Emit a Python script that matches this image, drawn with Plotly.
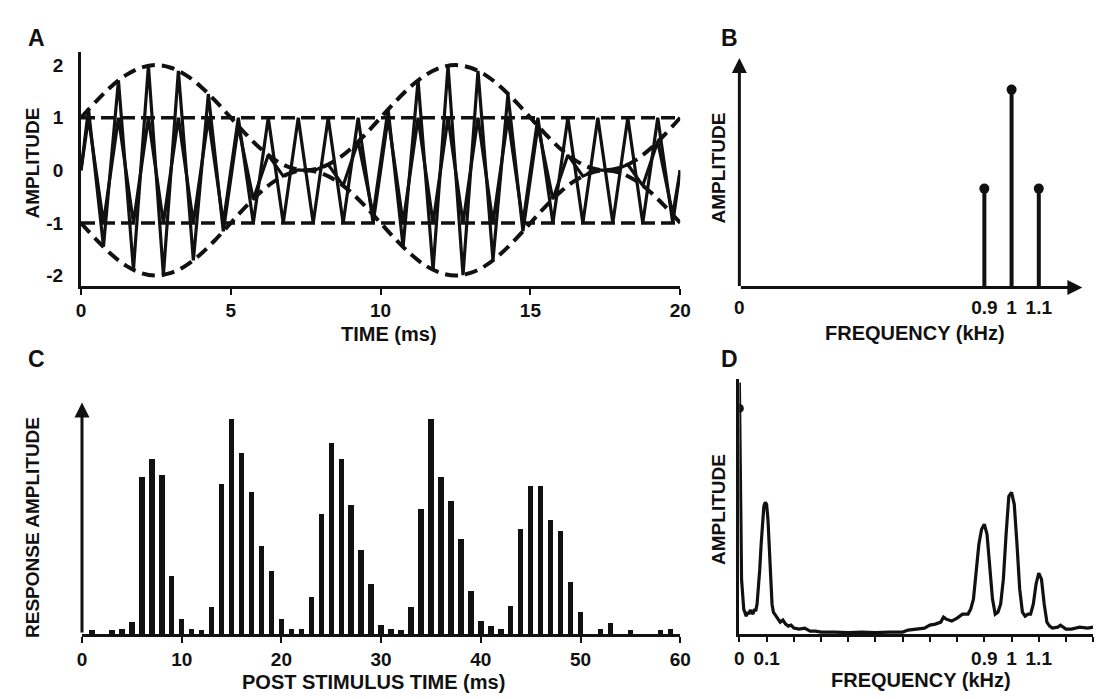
import plotly.graph_objects as go

W, H = 1109, 699

# ---------------- Panel A data (time in ms) ----------------
wave_t = [0, 0.25, 0.75, 1.25, 1.75, 2.25, 2.75, 3.25, 3.75, 4.25, 4.75,
          5.25, 5.75, 6.25, 6.75, 7.25, 7.75, 8.25, 8.75, 9.25, 9.75,
          10.25, 10.75, 11.25, 11.75, 12.25, 12.75, 13.25, 13.75, 14.25, 14.75,
          15.25, 15.75, 16.25, 16.75, 17.25, 17.75, 18.25, 18.75, 19.25, 19.75, 20]
carrier_peaks = [0, 1, -1, 1, -1, 1, -1, 1, -1, 1, -1,
                 1, -1, 1, -1, 1, -1, 1, -1, 1, -1,
                 1, -1, 1, -1, 1, -1, 1, -1, 1, -1,
                 1, -1, 1, -1, 1, -1, 1, -1, 1, -1, 0]
am_peaks = [0, 1.16, -1.45, 1.71, -1.89, 1.99, -1.99, 1.89, -1.71, 1.45, -1.16,
            0.84, -0.55, 0.29, -0.11, 0.01, -0.01, 0.11, -0.29, 0.55, -0.84,
            1.16, -1.45, 1.71, -1.89, 1.99, -1.99, 1.89, -1.71, 1.45, -1.16,
            0.84, -0.55, 0.29, -0.11, 0.01, -0.01, 0.11, -0.29, 0.55, -0.84, 0]
env_t = [0, 0.5, 1, 1.5, 2, 2.5, 3, 3.5, 4, 4.5, 5, 5.5, 6, 6.5, 7, 7.5, 8, 8.5, 9, 9.5,
         10, 10.5, 11, 11.5, 12, 12.5, 13, 13.5, 14, 14.5, 15, 15.5, 16, 16.5, 17, 17.5,
         18, 18.5, 19, 19.5, 20]
env_upper = [1.00, 1.31, 1.59, 1.81, 1.95, 2.00, 1.95, 1.81, 1.59, 1.31,
             1.00, 0.69, 0.41, 0.19, 0.05, 0.00, 0.05, 0.19, 0.41, 0.69,
             1.00, 1.31, 1.59, 1.81, 1.95, 2.00, 1.95, 1.81, 1.59, 1.31,
             1.00, 0.69, 0.41, 0.19, 0.05, 0.00, 0.05, 0.19, 0.41, 0.69, 1.00]
env_lower = [-1.00, -1.31, -1.59, -1.81, -1.95, -2.00, -1.95, -1.81, -1.59, -1.31,
             -1.00, -0.69, -0.41, -0.19, -0.05, 0.00, -0.05, -0.19, -0.41, -0.69,
             -1.00, -1.31, -1.59, -1.81, -1.95, -2.00, -1.95, -1.81, -1.59, -1.31,
             -1.00, -0.69, -0.41, -0.19, -0.05, 0.00, -0.05, -0.19, -0.41, -0.69, -1.00]
carrier_levels = [1, -1]
a_xticks = [0, 5, 10, 15, 20]
a_yticks = [2, 1, 0, -1, -2]

# ---------------- Panel B data (kHz) ----------------
b_freq = [0.9, 1.0, 1.1]
b_amp = [0.5, 1.0, 0.5]
b_xticks = [0, 0.9, 1, 1.1]

# ---------------- Panel C data (ms) ----------------
c_time = [1, 3, 4, 5, 6, 7, 8, 9, 10, 11, 12, 13, 14, 15, 16, 17, 18, 19, 20,
          21, 22, 23, 24, 25, 26, 27, 28, 29, 30, 31, 32, 33, 34, 35, 36, 37, 38,
          39, 40, 41, 42, 43, 44, 45, 46, 47, 48, 49, 50, 52, 53, 55, 58, 59]
c_amp = [0.015, 0.015, 0.02, 0.055, 0.73, 0.815, 0.74, 0.27, 0.07, 0.02, 0.015,
         0.125, 0.70, 1.00, 0.84, 0.66, 0.41, 0.29, 0.07,
         0.02, 0.02, 0.17, 0.56, 0.89, 0.815, 0.60, 0.39, 0.23, 0.04, 0.02, 0.015,
         0.125, 0.58, 1.00, 0.73, 0.62, 0.44,
         0.20, 0.06, 0.035, 0.02, 0.13, 0.49, 0.69, 0.69, 0.53, 0.48, 0.24, 0.10,
         0.02, 0.05, 0.015, 0.015, 0.02]
c_xticks = [0, 10, 20, 30, 40, 50, 60]

# ---------------- Panel D data (kHz) ----------------
d_freq = [0.0, 0.004, 0.008, 0.012, 0.016, 0.02, 0.025, 0.03, 0.035, 0.04, 0.045, 0.05,
          0.055, 0.06, 0.065, 0.07, 0.075, 0.08, 0.085, 0.09, 0.095, 0.1, 0.105, 0.11,
          0.115, 0.12, 0.125, 0.13, 0.14, 0.15, 0.16, 0.17, 0.18, 0.19, 0.2, 0.22, 0.24,
          0.26, 0.28, 0.3, 0.35, 0.4, 0.45, 0.5, 0.55, 0.6, 0.62, 0.65, 0.68, 0.7, 0.72,
          0.74, 0.75, 0.76, 0.78, 0.8, 0.82, 0.84, 0.85, 0.86, 0.87, 0.88, 0.89, 0.9,
          0.91, 0.92, 0.93, 0.94, 0.95, 0.96, 0.97, 0.98, 0.99, 1.0, 1.01, 1.02, 1.03,
          1.04, 1.05, 1.06, 1.07, 1.08, 1.09, 1.1, 1.11, 1.12, 1.13, 1.14, 1.15, 1.17,
          1.18, 1.2, 1.22, 1.25, 1.28, 1.3]
d_amp = [2.52, 1.2, 0.55, 0.40, 0.25, 0.22, 0.18, 0.22, 0.20, 0.24, 0.22, 0.20,
         0.25, 0.23, 0.30, 0.45, 0.65, 0.90, 1.15, 1.28, 1.32, 1.30, 1.15, 0.85,
         0.50, 0.30, 0.22, 0.20, 0.15, 0.12, 0.14, 0.10, 0.08, 0.09, 0.06, 0.05, 0.06,
         0.03, 0.03, 0.02, 0.02, 0.015, 0.02, 0.015, 0.02, 0.02, 0.04, 0.05, 0.06, 0.09, 0.10,
         0.12, 0.17, 0.15, 0.13, 0.16, 0.20, 0.20, 0.25, 0.35, 0.60, 0.90, 1.05, 1.10,
         1.00, 0.70, 0.35, 0.20, 0.22, 0.30, 0.55, 1.00, 1.38, 1.42, 1.30, 0.90, 0.45,
         0.22, 0.18, 0.20, 0.20, 0.30, 0.50, 0.61, 0.55, 0.30, 0.12, 0.08, 0.06, 0.07,
         0.09, 0.05, 0.05, 0.07, 0.06, 0.07]
d_dc_marker = 2.26
d_xticks = [0, 0.1, 0.9, 1, 1.1]
d_minor_ticks = [0.2, 0.3, 0.4, 0.5, 0.6, 0.7, 0.8, 1.2, 1.3]

FONT = "Liberation Sans, Arial, sans-serif"
BLACK = "#111111"


def px_x(p):
    return p / W


def px_y(p):
    return 1 - p / H


fig = go.Figure()

# ---- Panel A ----
for lvl in carrier_levels:
    fig.add_trace(go.Scatter(x=[a_xticks[0], a_xticks[-1]], y=[lvl, lvl], mode="lines",
                             line=dict(color=BLACK, width=3.5, dash="14px,6px"),
                             xaxis="x", yaxis="y", hoverinfo="skip"))
fig.add_trace(go.Scatter(x=wave_t, y=carrier_peaks, mode="lines",
                         line=dict(color=BLACK, width=3.2), xaxis="x", yaxis="y"))
fig.add_trace(go.Scatter(x=wave_t, y=am_peaks, mode="lines",
                         line=dict(color=BLACK, width=3.2), xaxis="x", yaxis="y"))
fig.add_trace(go.Scatter(x=env_t, y=env_upper, mode="lines", line_shape="spline",
                         line=dict(color=BLACK, width=4, dash="13px,7px"),
                         xaxis="x", yaxis="y"))
fig.add_trace(go.Scatter(x=env_t, y=env_lower, mode="lines", line_shape="spline",
                         line=dict(color=BLACK, width=4, dash="13px,7px"),
                         xaxis="x", yaxis="y"))

# ---- Panel B ----
stem_x, stem_y = [], []
for f, a in zip(b_freq, b_amp):
    stem_x += [f, f, None]
    stem_y += [0, a, None]
fig.add_trace(go.Scatter(x=stem_x, y=stem_y, mode="lines",
                         line=dict(color=BLACK, width=4), xaxis="x2", yaxis="y2"))
fig.add_trace(go.Scatter(x=b_freq, y=b_amp, mode="markers",
                         marker=dict(color=BLACK, size=10), xaxis="x2", yaxis="y2"))

# ---- Panel C ----
fig.add_trace(go.Bar(x=c_time, y=c_amp, width=0.55, marker=dict(color=BLACK, line=dict(width=0)),
                     xaxis="x3", yaxis="y3"))

# ---- Panel D ----
fig.add_trace(go.Scatter(x=d_freq, y=d_amp, mode="lines",
                         line=dict(color=BLACK, width=3.2), xaxis="x4", yaxis="y4"))
fig.add_trace(go.Scatter(x=[d_freq[0]], y=[d_dc_marker], mode="markers",
                         marker=dict(color=BLACK, size=9), xaxis="x4", yaxis="y4"))

tickfont = dict(family=FONT, size=19, color=BLACK, weight="bold")
common = dict(showgrid=False, zeroline=False, tickfont=tickfont, fixedrange=True)

layout = dict(
    width=W, height=H, showlegend=False,
    paper_bgcolor="white", plot_bgcolor="rgba(0,0,0,0)",
    margin=dict(l=0, r=0, t=0, b=0),
    bargap=0,
    # A
    xaxis=dict(domain=[px_x(69), px_x(677)], range=[0, 20], anchor="y",
               tickvals=a_xticks, ticks="outside", ticklen=6, tickwidth=2, tickcolor=BLACK,
               showline=True, linewidth=3, linecolor=BLACK, **common),
    yaxis=dict(domain=[px_y(278), px_y(44)], range=[-2.19, 2.25], anchor="x",
               tickvals=a_yticks, ticktext=["2", "1", "0", "-1", "-2"], ticks="",
               ticklabelstandoff=11,
               showline=True, linewidth=3, linecolor=BLACK, **common),
    # B
    xaxis2=dict(domain=[px_x(737), px_x(1085)], range=[0, 1.26], anchor="y2",
                tickvals=b_xticks, ticktext=["0", "0.9", "1", "1.1"], ticks="",
                ticklabelstandoff=6, showline=False, **common),
    yaxis2=dict(domain=[px_y(280), px_y(50)], range=[0, 1.16], anchor="x2",
                showticklabels=False, ticks="", showline=False, **common),
    # C
    xaxis3=dict(domain=[px_x(70), px_x(677)], range=[0, 60], anchor="y3",
                tickvals=c_xticks, ticks="outside", ticklen=6, tickwidth=2, tickcolor=BLACK,
                showline=True, linewidth=3, linecolor=BLACK, **common),
    yaxis3=dict(domain=[px_y(627), px_y(395)], range=[0, 1.08], anchor="x3",
                showticklabels=False, ticks="", showline=False, **common),
    # D
    xaxis4=dict(domain=[px_x(737), px_x(1096)], range=[0, 1.3], anchor="y4",
                tickvals=d_xticks, ticktext=["0", "0.1", "0.9", "1", "1.1"],
                ticks="outside", ticklen=5, tickwidth=2, tickcolor=BLACK,
                minor=dict(tickvals=d_minor_ticks, ticks="outside", ticklen=5, tickwidth=2,
                           tickcolor=BLACK, showgrid=False),
                showline=True, linewidth=3, linecolor=BLACK, **common),
    yaxis4=dict(domain=[px_y(627), px_y(372)], range=[0, 2.55], anchor="x4",
                showticklabels=False, ticks="", showline=True, linewidth=3,
                linecolor=BLACK, **common),
)


def txt(text, x, y, size=20, angle=0):
    return dict(text="<b>%s</b>" % text, x=px_x(x), y=px_y(y), xref="paper", yref="paper",
                xanchor="center", yanchor="middle", showarrow=False, textangle=angle,
                font=dict(family=FONT, size=size, color=BLACK))


def axis_arrow(xref, yref, x0, y0, x1, y1):
    return dict(x=x1, y=y1, ax=x0, ay=y0, xref=xref, yref=yref, axref=xref, ayref=yref,
                text="", showarrow=True, arrowhead=2, arrowsize=1, arrowwidth=3,
                arrowcolor=BLACK)


annotations = [
    txt("A", 24, 30, 23), txt("B", 727, 30, 23), txt("C", 24, 352, 23), txt("D", 727, 352, 23),
    txt("TIME (ms)", 382, 326),
    txt("AMPLITUDE", 20, 155, 19, -90),
    txt("FREQUENCY (kHz)", 915, 325),
    txt("AMPLITUDE", 716, 160, 19, -90),
    txt("POST STIMULUS TIME (ms)", 366, 675),
    txt("RESPONSE AMPLITUDE", 20, 520, 19, -90),
    txt("FREQUENCY (kHz)", 921, 673),
    txt("AMPLITUDE", 716, 502, 19, -90),
    axis_arrow("x2", "y2", 0, 0, 1.26, 0),
    axis_arrow("x2", "y2", 0, 0, 0, 1.16),
    axis_arrow("x3", "y3", 0, 0, 0, 1.08),
]
layout["annotations"] = annotations

fig.update_layout(**layout)
fig.write_html("out.html")
